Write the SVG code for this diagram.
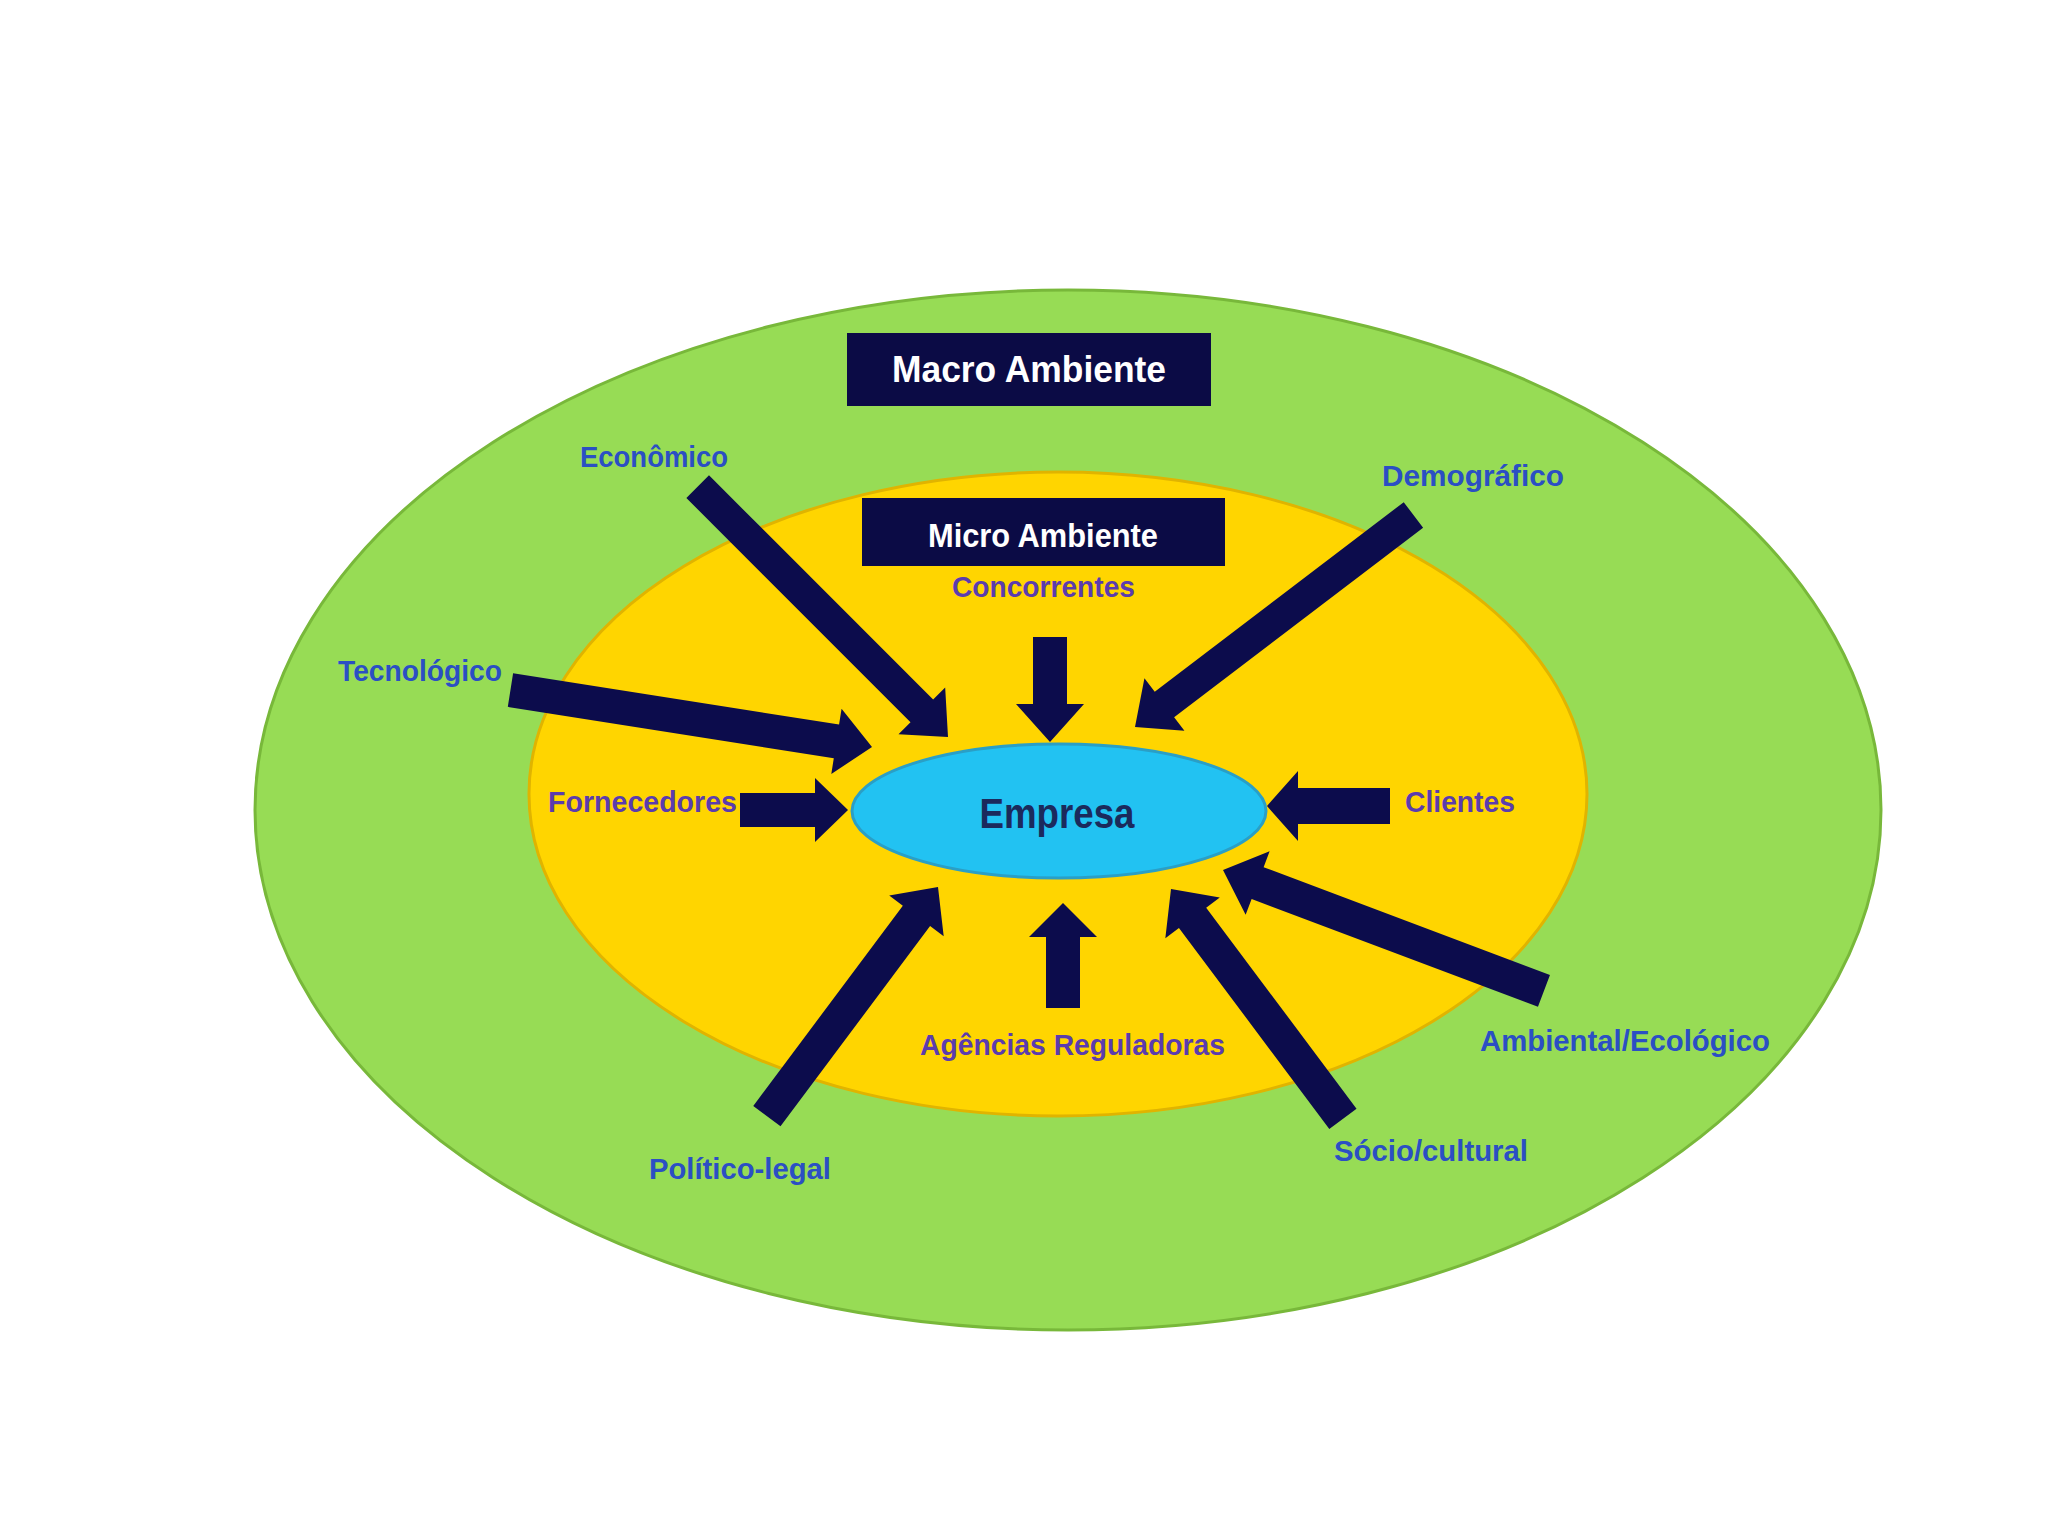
<svg xmlns="http://www.w3.org/2000/svg" width="2048" height="1536" viewBox="0 0 2048 1536">
  <style>
    .macro { font-family: "Liberation Sans", Arial, sans-serif; font-weight: bold; font-size: 29px; fill: #2b4fc4; }
    .micro { font-family: "Liberation Sans", Arial, sans-serif; font-weight: bold; font-size: 29px; fill: #5b3cae; }
    .title { font-family: "Liberation Sans", Arial, sans-serif; font-weight: bold; fill: #ffffff; text-anchor: middle; }
    .box { fill: #0b0b45; }
    .arrow { fill: #0c0c4c; }
  </style>
  <rect x="0" y="0" width="2048" height="1536" fill="#ffffff"/>

  <g id="macro-ambiente">
    <ellipse cx="1068" cy="810" rx="813" ry="520" fill="#97dc55" stroke="#78b83a" stroke-width="3"/>
    <rect class="box" x="847" y="333" width="364" height="73"/>
    <text class="title" x="1029" y="382" font-size="37" textLength="274" lengthAdjust="spacingAndGlyphs">Macro Ambiente</text>
  </g>

  <g id="micro-ambiente">
    <ellipse cx="1058" cy="794" rx="529" ry="322" fill="#ffd500" stroke="#e0b400" stroke-width="3"/>
    <rect class="box" x="862" y="498" width="363" height="68"/>
    <text class="title" x="1043" y="547" font-size="34" textLength="230" lengthAdjust="spacingAndGlyphs">Micro Ambiente</text>
  </g>

  <g id="connectors">
    <!-- Econômico -->
    <path class="arrow" transform="translate(948,737) rotate(45)" d="M0,0 L-37,-33 L-37,-16 L-354,-16 L-354,16 L-37,16 L-37,33 Z"/>
    <!-- Tecnológico -->
    <path class="arrow" transform="translate(872,747) rotate(8.95)" d="M0,0 L-36,-33 L-36,-17 L-366,-17 L-366,17 L-36,17 L-36,33 Z"/>
    <!-- Fornecedores -->
    <path class="arrow" transform="translate(848,810) rotate(0)" d="M0,0 L-33,-32 L-33,-17 L-108,-17 L-108,17 L-33,17 L-33,32 Z"/>
    <!-- Concorrentes -->
    <path class="arrow" transform="translate(1050,742) rotate(90)" d="M0,0 L-38,-34 L-38,-17 L-105,-17 L-105,17 L-38,17 L-38,34 Z"/>
    <!-- Demográfico -->
    <path class="arrow" transform="translate(1135,727) rotate(142.7)" d="M0,0 L-37,-33 L-37,-16 L-350,-16 L-350,16 L-37,16 L-37,33 Z"/>
    <!-- Clientes -->
    <path class="arrow" transform="translate(1267,806) rotate(180)" d="M0,0 L-31,-35 L-31,-18 L-123,-18 L-123,18 L-31,18 L-31,35 Z"/>
    <!-- Ambiental/Ecológico -->
    <path class="arrow" transform="translate(1223,870) rotate(200.65)" d="M0,0 L-37,-34 L-37,-17 L-343,-17 L-343,17 L-37,17 L-37,34 Z"/>
    <!-- Sócio/cultural -->
    <path class="arrow" transform="translate(1171,889) rotate(233.2)" d="M0,0 L-36,-34 L-36,-17 L-287,-17 L-287,17 L-36,17 L-36,34 Z"/>
    <!-- Agências Reguladoras -->
    <path class="arrow" transform="translate(1063,903) rotate(-90)" d="M0,0 L-34,-34 L-34,-17 L-105,-17 L-105,17 L-34,17 L-34,34 Z"/>
    <!-- Político-legal -->
    <path class="arrow" transform="translate(938,887) rotate(-53.25)" d="M0,0 L-36,-34 L-36,-17 L-286,-17 L-286,17 L-36,17 L-36,34 Z"/>
  </g>

  <g id="empresa">
    <ellipse cx="1059" cy="811" rx="207" ry="67" fill="#22c2f2" stroke="#2a9fc6" stroke-width="3"/>
    <text x="1057" y="828" text-anchor="middle" font-family="'Liberation Sans', Arial, sans-serif" font-weight="bold" font-size="43" fill="#1b2a5c" textLength="155" lengthAdjust="spacingAndGlyphs">Empresa</text>
  </g>

  <g id="label-economico"><text class="macro" x="580" y="467" textLength="148" lengthAdjust="spacingAndGlyphs">Econômico</text></g>
  <g id="label-demografico"><text class="macro" x="1382" y="486" textLength="182" lengthAdjust="spacingAndGlyphs">Demográfico</text></g>
  <g id="label-tecnologico"><text class="macro" x="338" y="681" textLength="164" lengthAdjust="spacingAndGlyphs">Tecnológico</text></g>
  <g id="label-ambiental"><text class="macro" x="1480" y="1051" textLength="290" lengthAdjust="spacingAndGlyphs">Ambiental/Ecológico</text></g>
  <g id="label-socio"><text class="macro" x="1334" y="1161" textLength="194" lengthAdjust="spacingAndGlyphs">Sócio/cultural</text></g>
  <g id="label-politico"><text class="macro" x="649" y="1179" textLength="182" lengthAdjust="spacingAndGlyphs">Político-legal</text></g>

  <g id="label-concorrentes"><text class="micro" x="952" y="597" textLength="183" lengthAdjust="spacingAndGlyphs">Concorrentes</text></g>
  <g id="label-fornecedores"><text class="micro" x="548" y="812" textLength="189" lengthAdjust="spacingAndGlyphs">Fornecedores</text></g>
  <g id="label-clientes"><text class="micro" x="1405" y="812" textLength="110" lengthAdjust="spacingAndGlyphs">Clientes</text></g>
  <g id="label-agencias"><text class="micro" x="920" y="1055" textLength="305" lengthAdjust="spacingAndGlyphs">Agências Reguladoras</text></g>
</svg>
